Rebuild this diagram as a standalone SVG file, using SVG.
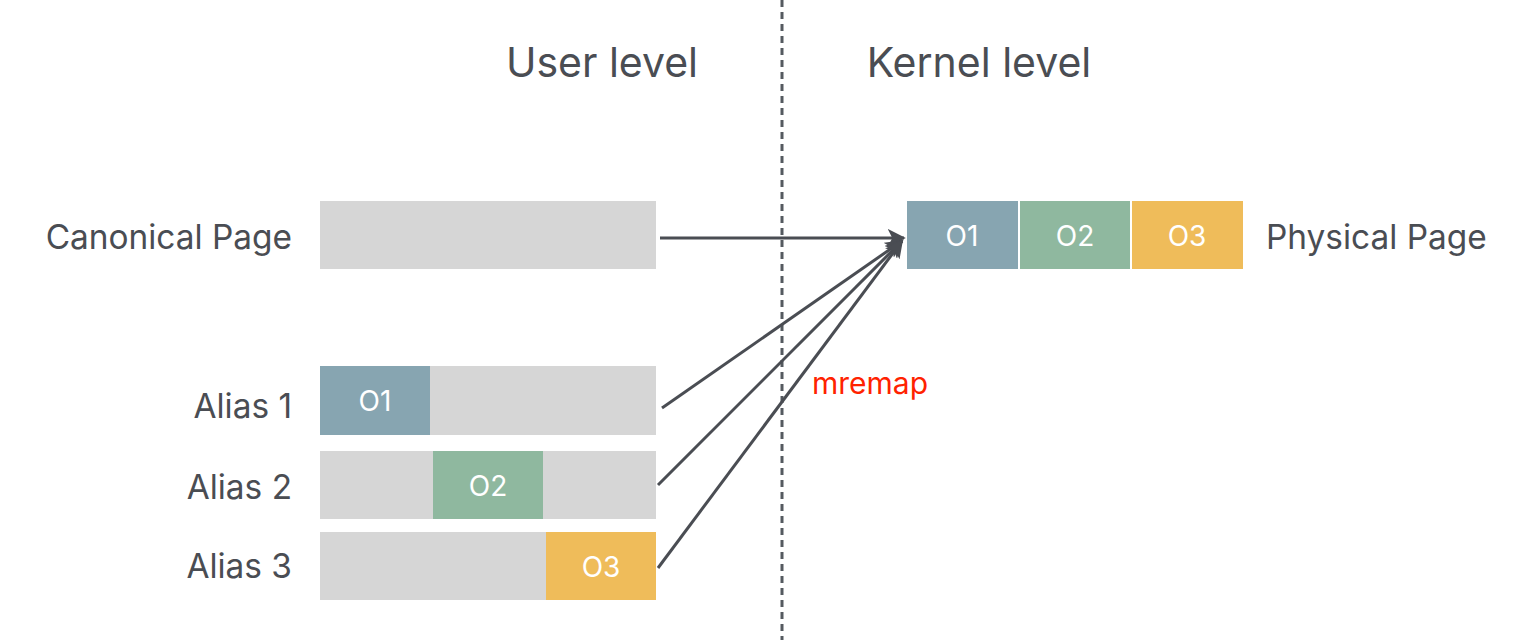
<svg xmlns="http://www.w3.org/2000/svg" width="1520" height="640" viewBox="0 0 1520 640">
<style>
.lbl{font-family:Inter,"Liberation Sans",sans-serif;fill:#4a4d53;}
.hd{font-size:41px;text-anchor:middle;}
.side{font-size:33.4px;}
.box{font-family:Inter,"Liberation Sans",sans-serif;font-size:28px;fill:#ffffff;text-anchor:middle;}
.bg{fill:#d6d6d6;}
.o1{fill:#87a5b1;}
.o2{fill:#8fb89f;}
.o3{fill:#efbc5a;}
.conn{stroke:#4a4d53;stroke-width:3;fill:none;marker-end:url(#ah);}
</style>
<defs>
<marker id="ah" viewBox="0 0 10 10" refX="9" refY="5" markerWidth="6" markerHeight="6" markerUnits="strokeWidth" orient="auto">
<path d="M0,0 L10,5 L0,10 L2.5,5 Z" fill="#4a4d53"/>
</marker>
</defs>
<rect width="1520" height="640" fill="#ffffff"/>
<line x1="782" y1="0" x2="782" y2="640" stroke="#555a60" stroke-width="3" stroke-dasharray="7,5"/>
<text class="lbl hd" x="602" y="77">User level</text>
<text class="lbl hd" x="979" y="77">Kernel level</text>
<g id="canonical">
<rect class="bg" x="320" y="201" width="336" height="68"/>
<text class="lbl side" x="292" y="249" text-anchor="end">Canonical Page</text>
</g>
<g id="alias1">
<rect class="bg" x="320" y="366" width="336" height="69"/>
<rect class="o1" x="320" y="366" width="110" height="69"/>
<text class="box" x="375" y="411">O1</text>
<text class="lbl side" x="292" y="418" text-anchor="end">Alias 1</text>
</g>
<g id="alias2">
<rect class="bg" x="320" y="451" width="336" height="68"/>
<rect class="o2" x="433" y="451" width="110" height="68"/>
<text class="box" x="488" y="496">O2</text>
<text class="lbl side" x="292" y="499" text-anchor="end">Alias 2</text>
</g>
<g id="alias3">
<rect class="bg" x="320" y="532" width="336" height="68"/>
<rect class="o3" x="546" y="532" width="110" height="68"/>
<text class="box" x="601" y="577">O3</text>
<text class="lbl side" x="292" y="578" text-anchor="end">Alias 3</text>
</g>
<g id="physical">
<rect class="o1" x="907" y="201" width="111" height="68"/>
<rect class="o2" x="1020" y="201" width="110" height="68"/>
<rect class="o3" x="1132" y="201" width="111" height="68"/>
<text class="box" x="962" y="246">O1</text>
<text class="box" x="1075" y="246">O2</text>
<text class="box" x="1187" y="246">O3</text>
<text class="lbl side" x="1266" y="249">Physical Page</text>
</g>
<g id="connectors">
<line class="conn" x1="660" y1="238" x2="904" y2="238"/>
<line class="conn" x1="662" y1="408" x2="902" y2="241"/>
<line class="conn" x1="658" y1="485" x2="902" y2="241"/>
<line class="conn" x1="658" y1="568" x2="902" y2="241"/>
</g>
<text x="812" y="394" font-family="Inter,'Liberation Sans',sans-serif" font-size="30" fill="#ff2200">mremap</text>
</svg>
